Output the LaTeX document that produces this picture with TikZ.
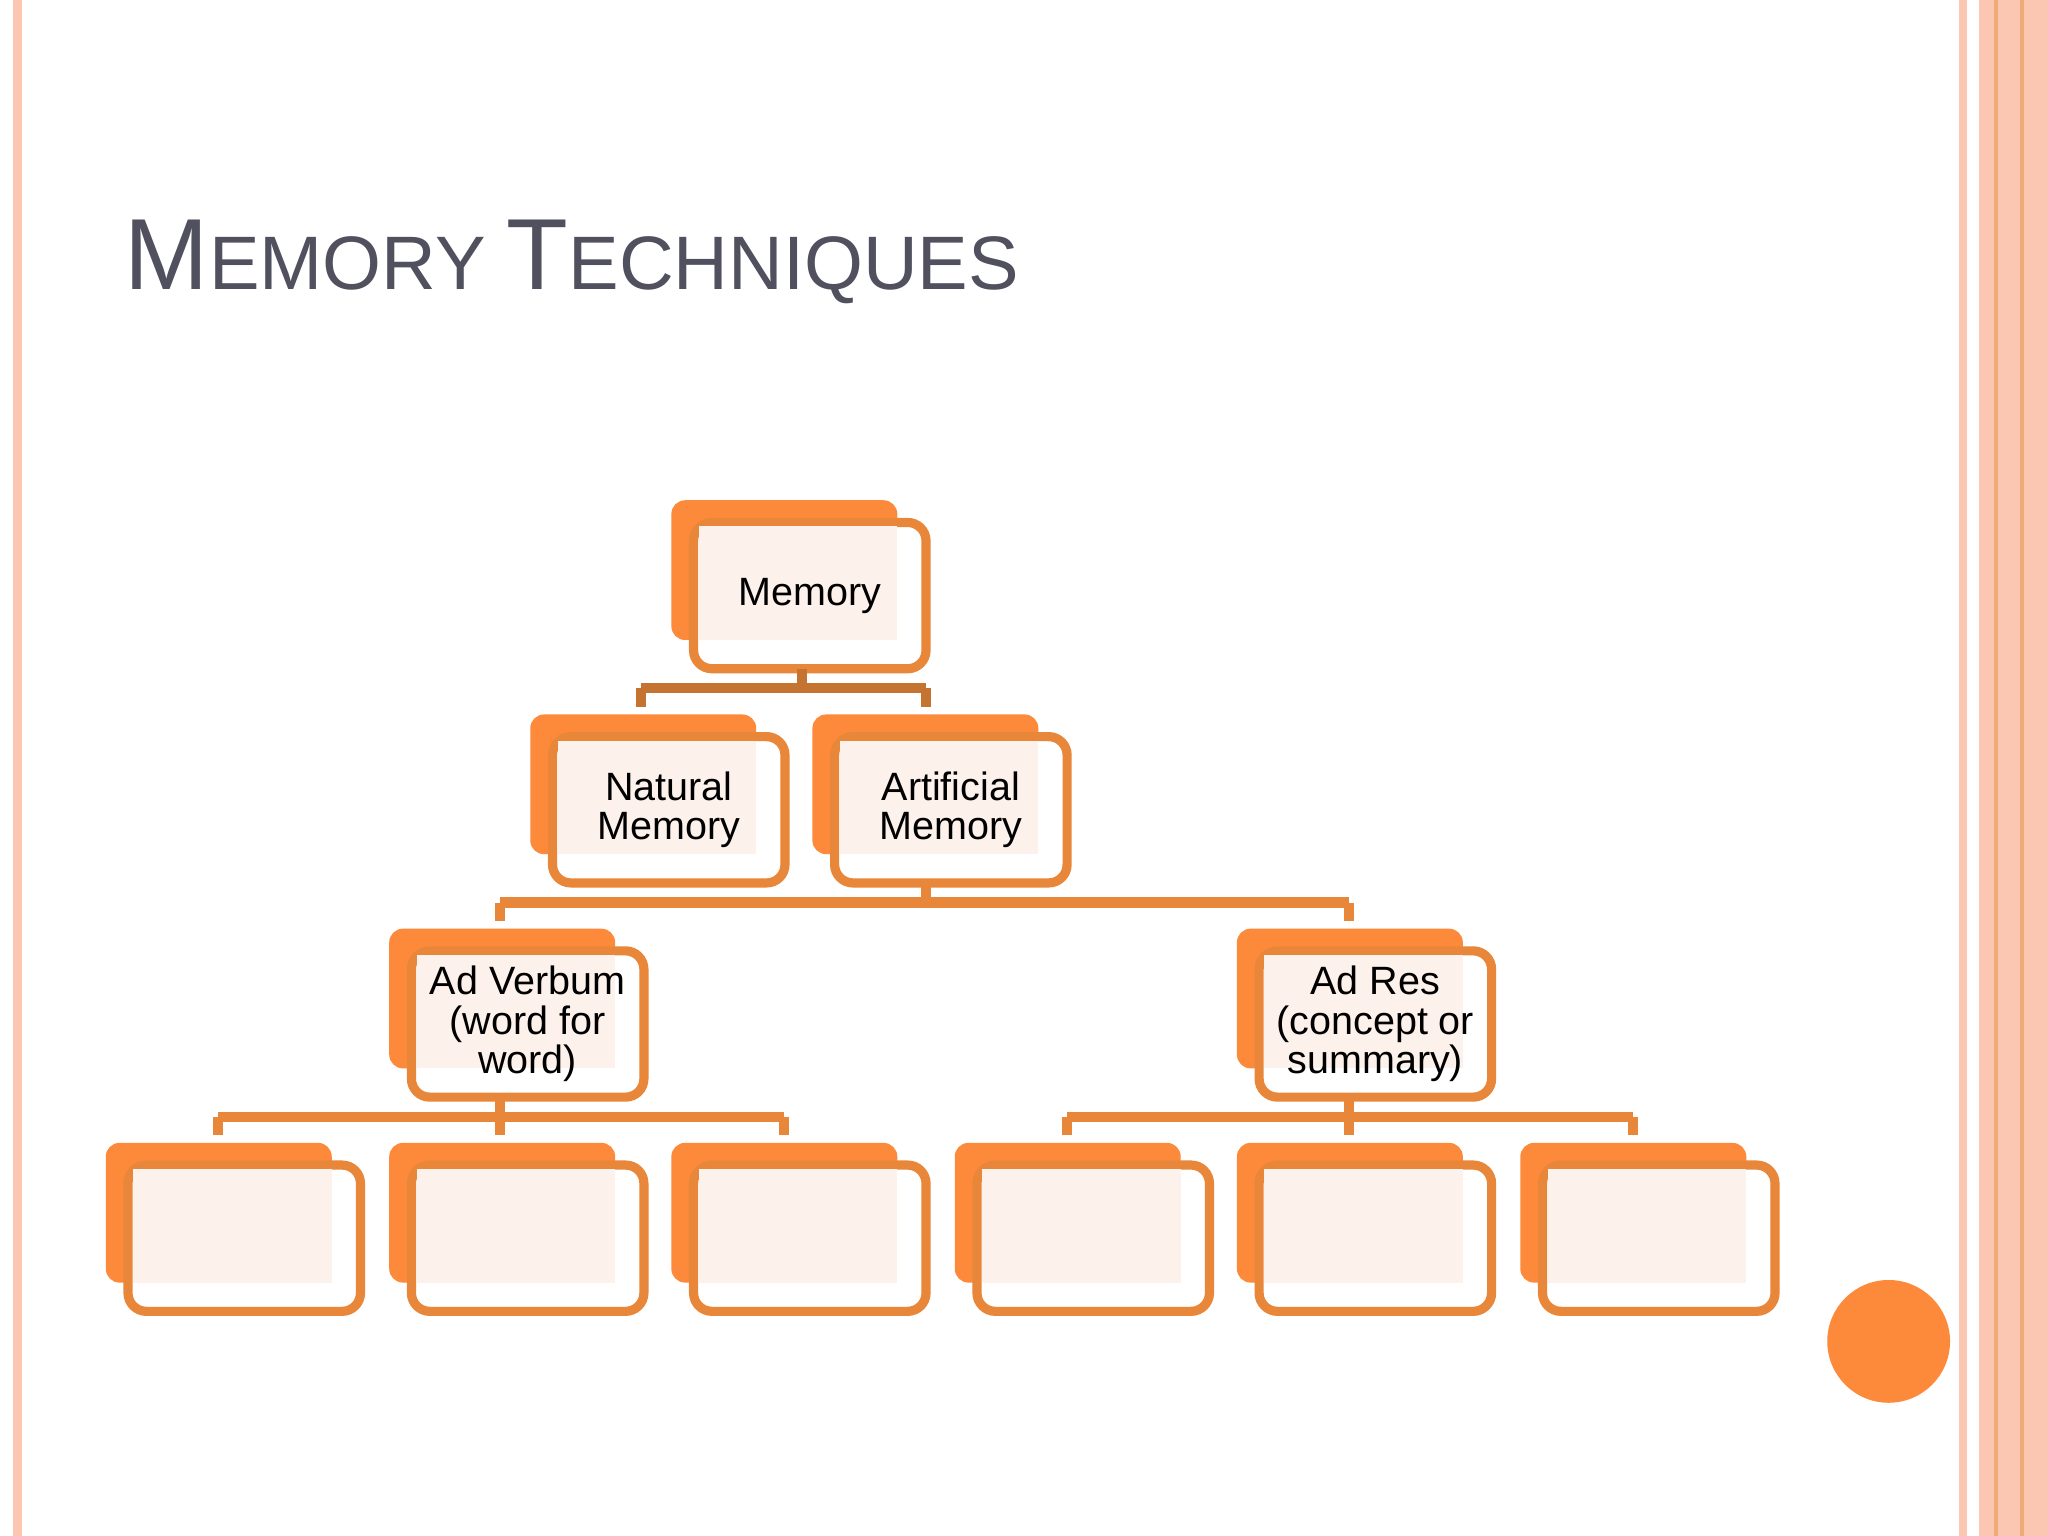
\documentclass[tikz,border=0pt]{standalone}
\usepackage{fontspec}
\setmainfont{Liberation Sans}
\definecolor{og}{HTML}{FD8A3A}
\definecolor{ln}{HTML}{E8873A}
\definecolor{lp}{HTML}{FDF1EC}
\definecolor{tt}{HTML}{50505E}
\definecolor{sal}{HTML}{FBC6B2}
\tikzset{
 conn/.style={draw=ln,line width=2.2pt},
 txt/.style={align=center,font=\fontsize{8.6}{8.6}\selectfont,text=black}
}
\newcommand{\obox}[4]{% name, x, y, text
 \fill[og,rounded corners=3pt] (#2,#3) rectangle ++(173,107);
 \draw[ln,fill=white,line width=2pt,rounded corners=4pt] (#2+17,#3+17) rectangle ++(178,112);
 \fill[lp] (#2+21,#3+20) rectangle (#2+173,#3+107);
 \node[txt] (#1) at (#2+106,#3+73) {#4};
 \coordinate (#1t) at (#2+106,#3);
 \coordinate (#1b) at (#2+106,#3+129);
}
\begin{document}
\begin{tikzpicture}[x=0.01cm,y=-0.01cm]
\useasboundingbox[fill=white] (0,0) rectangle (1568,1176);
% borders
\fill[sal] (10,0) rectangle (17,1176);
\fill[sal] (1500,0) rectangle (1506,1176);
\fill[sal] (1515,0) rectangle (1568,1176);
\draw[ln!70,line width=0.8pt] (1528,0) -- (1528,1176);
\draw[ln!70,line width=0.8pt] (1548,0) -- (1548,1176);
\fill[og] (1446,1027) circle (47);
% title
\node[anchor=base west,text=tt,inner sep=0] (title) at (95,222)
 {\fontsize{22}{22}\selectfont M\fontsize{16.5}{16.5}\selectfont EMORY \fontsize{22}{22}\selectfont T\fontsize{16.5}{16.5}\selectfont ECHNIQUES};
% boxes
\obox{mem}{514}{383}{Memory}
\obox{nat}{406}{547}{Natural\\Memory}
\obox{art}{622}{547}{Artificial\\Memory}
\obox{av}{298}{711}{Ad Verbum\\(word for\\word)}
\obox{ar}{947}{711}{Ad Res\\(concept or\\summary)}
\obox{b1}{81}{875}{}
\obox{b2}{298}{875}{}
\obox{b3}{514}{875}{}
\obox{b4}{731}{875}{}
\obox{b5}{947}{875}{}
\obox{b6}{1164}{875}{}
% connectors
\draw[conn,draw=ln!85!black] (memb) ++(-6,0) -- ++(0,15) coordinate(j1) (491,527) -- (709,527)
 (491,527) -- (491,541) (709,527) -- (709,541);
\draw[conn] (artb) ++(-19,0) -- (709,691) (383,691) -- (1033,691) (383,691) -- (383,705) (1033,691) -- (1033,705);
\draw[conn] (avb) ++(-21,0) -- (383,855) (167,855) -- (600,855) (167,855) -- (167,869) (600,855) -- (600,869) (383,855) -- (383,869);
\draw[conn] (arb) ++(-20,0) -- (1033,855) (817,855) -- (1250,855) (817,855) -- (817,869) (1250,855) -- (1250,869) (1033,855) -- (1033,869);
\end{tikzpicture}
\end{document}
